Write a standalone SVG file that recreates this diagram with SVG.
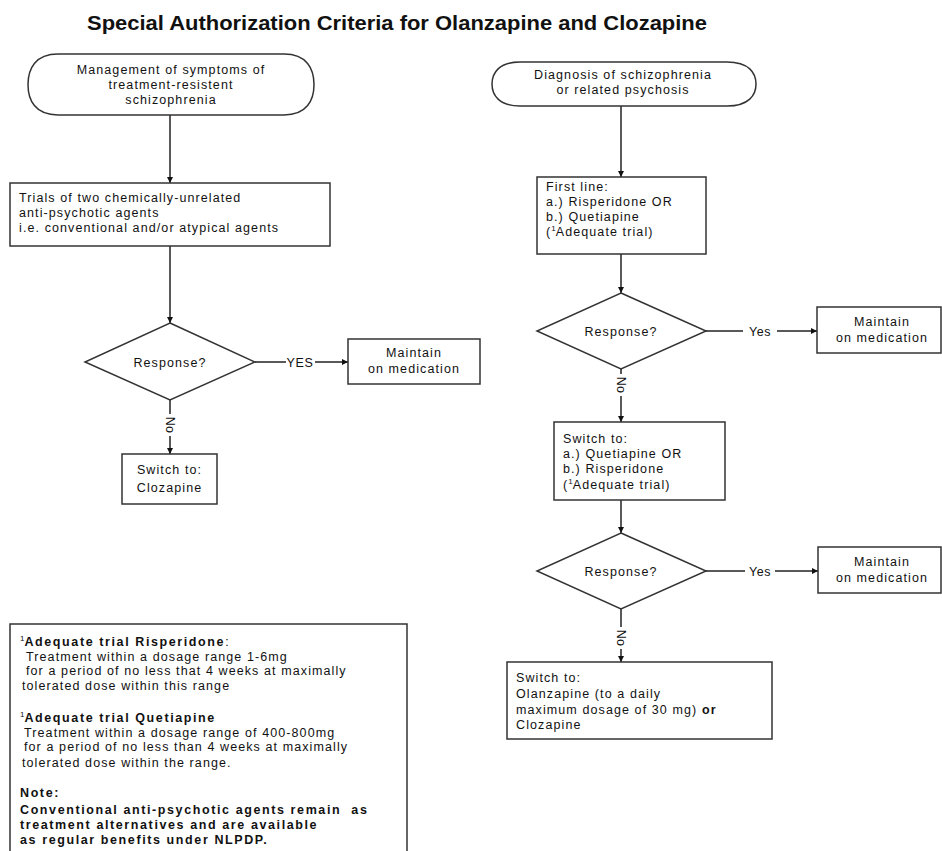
<svg xmlns="http://www.w3.org/2000/svg" width="942" height="851" viewBox="0 0 942 851">
<style>
  text { font-family: "Liberation Sans", Arial, sans-serif; font-size: 12.5px; fill: #111; letter-spacing: 1.1px; }
  .title { font-size: 20px; font-weight: bold; letter-spacing: 0; }
  .b { font-weight: bold; letter-spacing: 1.6px; }
  .c { text-anchor: middle; }
  .sup { font-size: 8px; letter-spacing: 0; }
  .shape { fill: #fff; stroke: #333; stroke-width: 1.5; }
  .line { fill: none; stroke: #222; stroke-width: 1.5; }
</style>
<defs>
  <marker id="arr" viewBox="0 0 10 10" refX="10" refY="5" markerWidth="6" markerHeight="6" orient="auto" markerUnits="userSpaceOnUse">
    <path d="M0,0 L10,5 L0,10 Z" fill="#111"/>
  </marker>
</defs>
<rect width="942" height="851" fill="#fff"/>
<text class="title" x="87" y="30" textLength="620" lengthAdjust="spacingAndGlyphs">Special Authorization Criteria for Olanzapine and Clozapine</text>

<g id="connectors">
  <path class="line" d="M170,115 V183" marker-end="url(#arr)"/>
  <path class="line" d="M170,246 V323" marker-end="url(#arr)"/>
  <path class="line" d="M255,362 H286"/>
  <path class="line" d="M315,362 H348" marker-end="url(#arr)"/>
  <text x="300" y="366.5" class="c" style="letter-spacing:0.6px">YES</text>
  <path class="line" d="M170,400 V414"/>
  <path class="line" d="M170,436 V454" marker-end="url(#arr)"/>
  <text x="0" y="0" class="c" transform="translate(165.5,425) rotate(90)" style="letter-spacing:0.3px">No</text>

  <path class="line" d="M621,106 V177" marker-end="url(#arr)"/>
  <path class="line" d="M621,254 V293" marker-end="url(#arr)"/>
  <path class="line" d="M706,331 H743"/>
  <path class="line" d="M777,331 H817" marker-end="url(#arr)"/>
  <text x="760" y="335.5" class="c" style="letter-spacing:0.6px">Yes</text>
  <path class="line" d="M621,369 V374"/>
  <path class="line" d="M621,396 V422" marker-end="url(#arr)"/>
  <text x="0" y="0" class="c" transform="translate(616.5,385) rotate(90)" style="letter-spacing:0.3px">No</text>
  <path class="line" d="M621,500 V533" marker-end="url(#arr)"/>
  <path class="line" d="M706,571 H745"/>
  <path class="line" d="M775,571 H818" marker-end="url(#arr)"/>
  <text x="760" y="575.5" class="c" style="letter-spacing:0.6px">Yes</text>
  <path class="line" d="M621,609 V627"/>
  <path class="line" d="M621,649 V662" marker-end="url(#arr)"/>
  <text x="0" y="0" class="c" transform="translate(616.5,638) rotate(90)" style="letter-spacing:0.3px">No</text>
</g>

<g id="start-left">
  <path class="shape" d="M58,54 H284 C307,54 314,69 314,84.5 C314,100 307,115 284,115 H58 C35,115 28,100 28,84.5 C28,69 35,54 58,54 Z"/>
  <text x="171" y="74" class="c">Management of symptoms of</text>
  <text x="171" y="89" class="c">treatment-resistent</text>
  <text x="171" y="104" class="c">schizophrenia</text>
</g>

<g id="trials">
  <rect class="shape" x="10" y="183" width="320" height="63"/>
  <text x="19" y="202">Trials of two chemically-unrelated</text>
  <text x="19" y="217">anti-psychotic agents</text>
  <text x="19" y="232">i.e. conventional and/or atypical agents</text>
</g>

<g id="response-left">
  <path class="shape" d="M170,323 L255,362 L170,400 L85,362 Z"/>
  <text x="170" y="366.5" class="c">Response?</text>
</g>

<g id="maintain-left">
  <rect class="shape" x="348" y="339" width="132" height="45"/>
  <text x="414" y="357" class="c">Maintain</text>
  <text x="414" y="373" class="c">on medication</text>
</g>

<g id="clozapine-left">
  <rect class="shape" x="122" y="454" width="95" height="50"/>
  <text x="169.5" y="474" class="c">Switch to:</text>
  <text x="169.5" y="492" class="c">Clozapine</text>
</g>

<g id="start-right">
  <path class="shape" d="M520,62 H727 C749,62 756,73 756,84 C756,95 749,106 727,106 H520 C499,106 492,95 492,84 C492,73 499,62 520,62 Z"/>
  <text x="623" y="79" class="c">Diagnosis of schizophrenia</text>
  <text x="623" y="94" class="c">or related psychosis</text>
</g>

<g id="first-line">
  <rect class="shape" x="537" y="177" width="169" height="77"/>
  <text x="546" y="191">First line:</text>
  <text x="546" y="206">a.) Risperidone OR</text>
  <text x="546" y="221">b.) Quetiapine</text>
  <text x="546" y="236">(<tspan class="sup" dy="-5">1</tspan><tspan dy="5">Adequate trial)</tspan></text>
</g>

<g id="response-right-1">
  <path class="shape" d="M621,293 L706,331 L621,369 L537,331 Z"/>
  <text x="621" y="335.5" class="c">Response?</text>
</g>

<g id="maintain-right-1">
  <rect class="shape" x="817" y="307" width="124" height="46"/>
  <text x="882" y="326" class="c">Maintain</text>
  <text x="882" y="342" class="c">on medication</text>
</g>

<g id="switch-right-1">
  <rect class="shape" x="554" y="422" width="171" height="78"/>
  <text x="563" y="443">Switch to:</text>
  <text x="563" y="458">a.) Quetiapine OR</text>
  <text x="563" y="473">b.) Risperidone</text>
  <text x="563" y="489">(<tspan class="sup" dy="-5">1</tspan><tspan dy="5">Adequate trial)</tspan></text>
</g>

<g id="response-right-2">
  <path class="shape" d="M621,533 L706,571 L621,609 L537,571 Z"/>
  <text x="621" y="575.5" class="c">Response?</text>
</g>

<g id="maintain-right-2">
  <rect class="shape" x="818" y="547" width="123" height="46"/>
  <text x="882" y="566" class="c">Maintain</text>
  <text x="882" y="582" class="c">on medication</text>
</g>

<g id="switch-right-2">
  <rect class="shape" x="507" y="662" width="265" height="77"/>
  <text x="516" y="682">Switch to:</text>
  <text x="516" y="698">Olanzapine (to a daily</text>
  <text x="516" y="714">maximum dosage of 30 mg) <tspan class="b" style="letter-spacing:1.1px">or</tspan></text>
  <text x="516" y="729">Clozapine</text>
</g>

<g id="footnotes">
  <rect class="shape" x="10" y="624" width="397" height="232"/>
  <text x="20" y="646"><tspan class="sup" dy="-5">1</tspan><tspan class="b" dy="5">Adequate trial Risperidone</tspan>:</text>
  <text x="26" y="661">Treatment within a dosage range 1-6mg</text>
  <text x="26" y="675">for a period of no less that 4 weeks at maximally</text>
  <text x="22" y="690">tolerated dose within this range</text>
  <text x="20" y="722"><tspan class="sup" dy="-5">1</tspan><tspan class="b" dy="5">Adequate trial Quetiapine</tspan></text>
  <text x="24" y="737">Treatment within a dosage range of 400-800mg</text>
  <text x="24" y="751">for a period of no less than 4 weeks at maximally</text>
  <text x="22" y="767">tolerated dose within the range.</text>
  <text x="20" y="797" class="b">Note:</text>
  <text x="20" y="814" class="b">Conventional anti-psychotic agents remain&#160; as</text>
  <text x="20" y="829" class="b">treatment alternatives and are available</text>
  <text x="20" y="844" class="b">as regular benefits under NLPDP.</text>
</g>
</svg>
